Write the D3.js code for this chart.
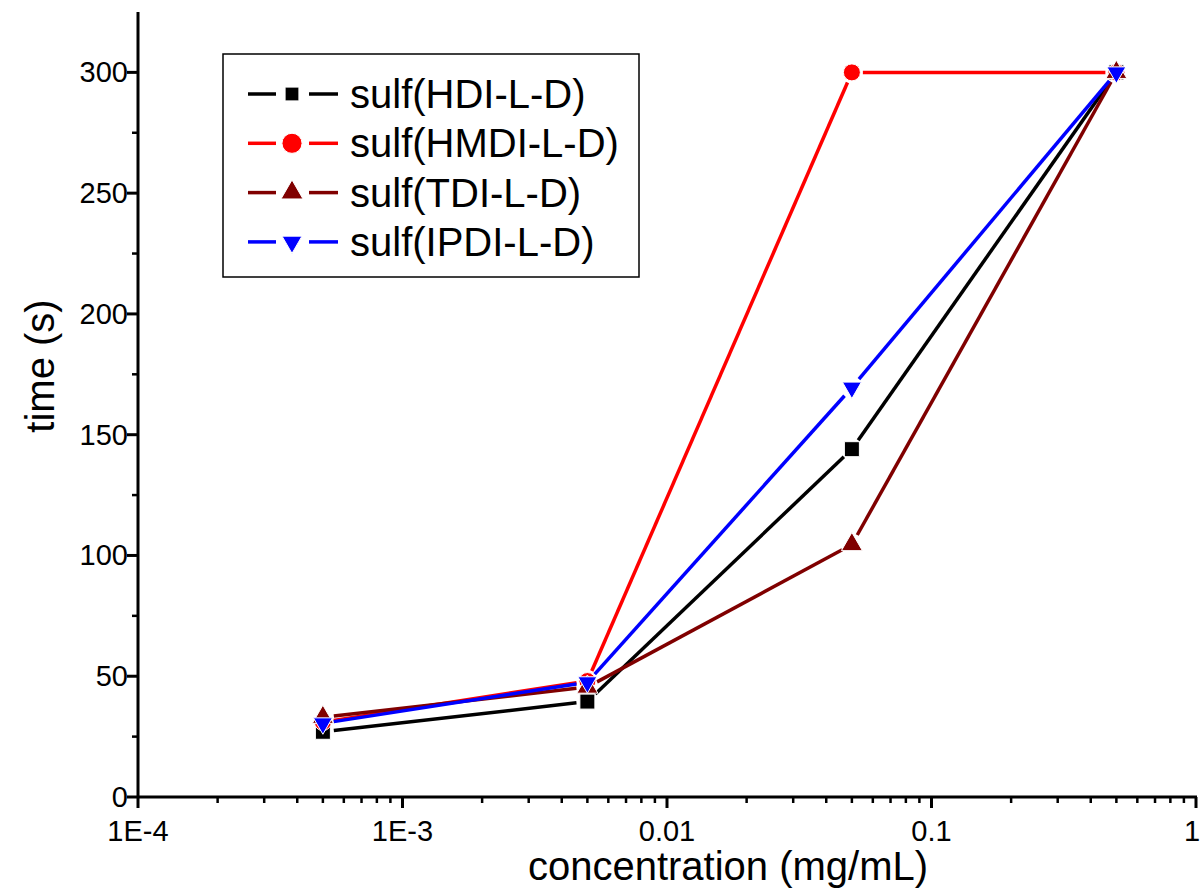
<!DOCTYPE html>
<html><head><meta charset="utf-8">
<script src="https://cdn.jsdelivr.net/npm/d3@7"></script>
<style>body{margin:0;background:#fff}svg{display:block}text{font-family:"Liberation Sans",Arial,sans-serif}</style>
</head><body>
<script>
const concentrations = [0.0005, 0.005, 0.05, 0.5];
const seriesNames = ["sulf(HDI-L-D)", "sulf(HMDI-L-D)", "sulf(TDI-L-D)", "sulf(IPDI-L-D)"];
const hdi  = [27, 39.5, 144, 300];
const hmdi = [31, 48, 300, 300];
const tdi  = [33, 45.5, 104.5, 300];
const ipdi = [30.5, 47.5, 169.5, 300];
const seriesColors = ["#000000", "#ff0000", "#800000", "#0000ff"];
const seriesSymbols = ["square", "circle", "triangle", "triangleDown"];
const xTickValues = [1e-4, 1e-3, 0.01, 0.1, 1];
const xTickLabels = ["1E-4", "1E-3", "0.01", "0.1", "1"];
const yTickValues = [0, 50, 100, 150, 200, 250, 300];

const W = 1202, H = 894;
const svg = d3.select("body").append("svg").attr("width", W).attr("height", H);
const x = d3.scaleLog().domain([1e-4, 1]).range([138, 1196]);
const y = d3.scaleLinear().domain([0, 325]).range([797, 12]);

const series = [hdi, hmdi, tdi, ipdi].map((v, i) => ({name: seriesNames[i], values: v, color: seriesColors[i], sym: seriesSymbols[i]}));

// axes
const xAxis = svg.append("g").attr("transform", "translate(0,797)");
xAxis.append("line").attr("x1", 138).attr("x2", 1197).attr("stroke", "#000").attr("stroke-width", 3);
const minorX = [];
for (let e = -4; e < 0; e++) for (let k = 2; k <= 9; k++) minorX.push(k * Math.pow(10, e));
xAxis.selectAll(".mx").data(minorX).join("line").attr("x1", d => x(d)).attr("x2", d => x(d)).attr("y1", 0).attr("y2", 6).attr("stroke", "#000").attr("stroke-width", 2.5);
xAxis.selectAll(".Mx").data(xTickValues).join("line").attr("x1", d => x(d)).attr("x2", d => x(d)).attr("y1", 0).attr("y2", 11).attr("stroke", "#000").attr("stroke-width", 3);
xAxis.selectAll(".lx").data(xTickValues).join("text").attr("x", d => Math.min(x(d), 1192)).attr("y", 44).attr("text-anchor", "middle").attr("font-size", 29).text((d, i) => xTickLabels[i]);

const yAxis = svg.append("g");
yAxis.append("line").attr("x1", 138).attr("x2", 138).attr("y1", 12).attr("y2", 798).attr("stroke", "#000").attr("stroke-width", 3);
const minorY = d3.range(25, 325, 50);
yAxis.selectAll(".my").data(minorY).join("line").attr("x1", 132).attr("x2", 138).attr("y1", d => y(d)).attr("y2", d => y(d)).attr("stroke", "#000").attr("stroke-width", 2.5);
yAxis.selectAll(".My").data(yTickValues).join("line").attr("x1", 127).attr("x2", 138).attr("y1", d => y(d)).attr("y2", d => y(d)).attr("stroke", "#000").attr("stroke-width", 3);
yAxis.selectAll(".ly").data(yTickValues).join("text").attr("x", 128).attr("y", d => y(d) + 10).attr("text-anchor", "end").attr("font-size", 29).text(d => d);

svg.append("text").attr("x", 728).attr("y", 880).attr("text-anchor", "middle").attr("font-size", 40).text("concentration (mg/mL)");
svg.append("text").attr("transform", "translate(54,366) rotate(-90)").attr("text-anchor", "middle").attr("font-size", 40).text("time (s)");

const symSize = {square: 225, circle: 227, triangle: 191, triangleDown: 156};
function symType(sym) { return sym === "square" ? d3.symbolSquare : sym === "circle" ? d3.symbolCircle : d3.symbolTriangle; }
function drawMarker(g, sym, color, cx, cy, scale) {
  g.append("path").attr("d", d3.symbol().type(symType(sym)).size(symSize[sym] * scale)())
    .attr("transform", `translate(${cx},${cy})` + (sym === "triangleDown" ? " rotate(180)" : ""))
    .attr("fill", color).attr("stroke", "#fff").attr("stroke-width", 1);
}

const gap = 11;
const plot = svg.append("g");
series.forEach(s => {
  const pts = concentrations.map((c, i) => [x(c), y(s.values[i])]);
  const g = plot.append("g");
  for (let i = 0; i < pts.length - 1; i++) {
    const [x1, y1] = pts[i], [x2, y2] = pts[i + 1];
    const len = Math.hypot(x2 - x1, y2 - y1);
    if (len < 2 * gap) continue;
    const ux = (x2 - x1) / len, uy = (y2 - y1) / len;
    g.append("line").attr("x1", x1 + ux * gap).attr("y1", y1 + uy * gap).attr("x2", x2 - ux * gap).attr("y2", y2 - uy * gap)
      .attr("stroke", s.color).attr("stroke-width", 3.5);
  }
});
series.forEach(s => {
  const g = plot.append("g");
  concentrations.forEach((c, i) => drawMarker(g, s.sym, s.color, x(c), y(s.values[i]), 1));
});

// legend
const lg = svg.append("g");
lg.append("rect").attr("x", 223).attr("y", 54).attr("width", 416).attr("height", 223).attr("fill", "#fff").attr("stroke", "#000").attr("stroke-width", 1.5);
series.forEach((s, i) => {
  const cy = 94 + i * 49.3;
  lg.append("line").attr("x1", 248).attr("x2", 276).attr("y1", cy).attr("y2", cy).attr("stroke", s.color).attr("stroke-width", 3.5);
  lg.append("line").attr("x1", 309).attr("x2", 338).attr("y1", cy).attr("y2", cy).attr("stroke", s.color).attr("stroke-width", 3.5);
  drawMarker(lg, s.sym, s.color, 292, cy, s.sym === "square" ? 0.85 : s.sym === "circle" ? 1.4 : 1.1);
  lg.append("text").attr("x", 350).attr("y", cy + 14).attr("font-size", 40).text(s.name);
});
</script>
</body></html>
